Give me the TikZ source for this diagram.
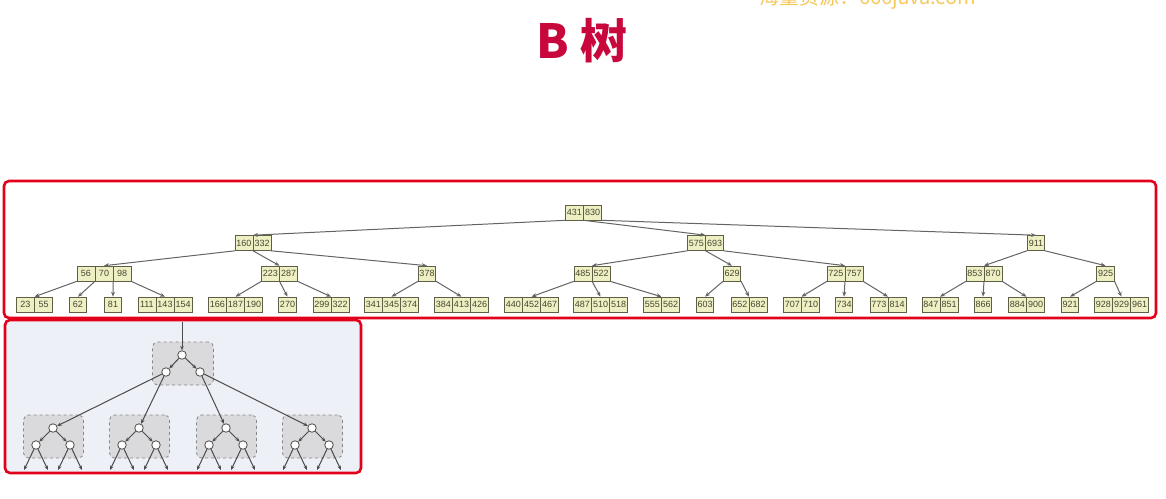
\documentclass[tikz,border=0pt]{standalone}
\usepackage{fontspec}
\setmainfont{Liberation Sans}
\newfontfamily\cjk{Noto Sans CJK SC}
\usetikzlibrary{shapes.multipart,arrows.meta}
\definecolor{frame}{RGB}{226,0,26}
\definecolor{titlered}{RGB}{200,8,60}
\definecolor{wmark}{RGB}{245,200,90}
\definecolor{nfill}{RGB}{238,240,196}
\definecolor{nborder}{RGB}{95,95,70}
\definecolor{ntext}{RGB}{70,70,50}
\definecolor{egray}{RGB}{100,100,100}
\definecolor{panelbg}{RGB}{238,240,247}
\definecolor{grpfill}{RGB}{218,218,220}
\definecolor{grpline}{RGB}{135,135,135}
\definecolor{pline}{RGB}{75,75,75}
\newcommand\ck[1]{\makebox[17.5pt]{\rule[-4.5pt]{0pt}{15pt}#1}}
\tikzset{
  bnode/.style={rectangle split, rectangle split horizontal, rectangle split draw splits=true,
    inner sep=0pt, draw=nborder, fill=nfill, text=ntext, line width=0.6pt,
    font=\fontsize{9}{9}\selectfont},
  kone/.style={bnode, rectangle split parts=1},
  ktwo/.style={bnode, rectangle split parts=2},
  kthree/.style={bnode, rectangle split parts=3},
  tedge/.style={draw=egray, line width=1pt, -{Stealth[length=5pt,width=4pt]}},
  redframe/.style={draw=frame, line width=2.6pt, rounded corners=5pt},
  grp/.style={draw=grpline, fill=grpfill, dashed, line width=0.8pt, rounded corners=5pt,
    minimum width=60pt, minimum height=43pt, inner sep=0pt},
  cir/.style={circle, draw=pline, fill=white, line width=0.8pt, minimum size=8.5pt, inner sep=0pt},
  pedge/.style={draw=pline, line width=1pt, -{Stealth[length=4.5pt,width=3.5pt]}},
}
\begin{document}
\begin{tikzpicture}[x=1pt,y=-1pt]
\useasboundingbox (0,0) rectangle (1166,498);
% watermark and title
\node[anchor=base west, inner sep=0pt, text=wmark, font=\cjk\fontsize{20}{20}\selectfont] (wm) at (759,4.5) {海量资源：666java.com};
\node[anchor=base west, inner sep=0pt, text=titlered, font=\cjk\bfseries\fontsize{47}{47}\selectfont] (title) at (536.5,58) {B 树};
% frames
\draw[redframe] (4,181) rectangle (1156,318);
\draw[redframe, fill=panelbg] (5,320) rectangle (361,473);
% ---- B-tree ----
\node[ktwo] (n431) at (583.5,212.5) {\ck{431}\nodepart{two}\ck{830}};
\node[ktwo] (n160) at (253,243) {\ck{160}\nodepart{two}\ck{332}};
\node[ktwo] (n575) at (705.5,243) {\ck{575}\nodepart{two}\ck{693}};
\node[kone] (n911) at (1036,243) {\ck{911}};
\node[kthree] (n56) at (104,273.5) {\ck{56}\nodepart{two}\ck{70}\nodepart{three}\ck{98}};
\node[ktwo] (n223) at (279.5,273.5) {\ck{223}\nodepart{two}\ck{287}};
\node[kone] (n378) at (427,273.5) {\ck{378}};
\node[ktwo] (n485) at (592,273.5) {\ck{485}\nodepart{two}\ck{522}};
\node[kone] (n629) at (732,273.5) {\ck{629}};
\node[ktwo] (n725) at (845,273.5) {\ck{725}\nodepart{two}\ck{757}};
\node[ktwo] (n853) at (984,273.5) {\ck{853}\nodepart{two}\ck{870}};
\node[kone] (n925) at (1105.5,273.5) {\ck{925}};
\node[ktwo] (n23) at (34.5,304.5) {\ck{23}\nodepart{two}\ck{55}};
\node[kone] (n62) at (78,304.5) {\ck{62}};
\node[kone] (n81) at (113,304.5) {\ck{81}};
\node[kthree] (n111) at (165,304.5) {\ck{111}\nodepart{two}\ck{143}\nodepart{three}\ck{154}};
\node[kthree] (n166) at (235.5,304.5) {\ck{166}\nodepart{two}\ck{187}\nodepart{three}\ck{190}};
\node[kone] (n270) at (287.5,304.5) {\ck{270}};
\node[ktwo] (n299) at (331,304.5) {\ck{299}\nodepart{two}\ck{322}};
\node[kthree] (n341) at (391.5,304.5) {\ck{341}\nodepart{two}\ck{345}\nodepart{three}\ck{374}};
\node[kthree] (n384) at (461.5,304.5) {\ck{384}\nodepart{two}\ck{413}\nodepart{three}\ck{426}};
\node[kthree] (n440) at (531.5,304.5) {\ck{440}\nodepart{two}\ck{452}\nodepart{three}\ck{467}};
\node[kthree] (n487) at (600.5,304.5) {\ck{487}\nodepart{two}\ck{510}\nodepart{three}\ck{518}};
\node[ktwo] (n555) at (661.5,304.5) {\ck{555}\nodepart{two}\ck{562}};
\node[kone] (n603) at (705,304.5) {\ck{603}};
\node[ktwo] (n652) at (749,304.5) {\ck{652}\nodepart{two}\ck{682}};
\node[ktwo] (n707) at (801.5,304.5) {\ck{707}\nodepart{two}\ck{710}};
\node[kone] (n734) at (844,304.5) {\ck{734}};
\node[ktwo] (n773) at (888,304.5) {\ck{773}\nodepart{two}\ck{814}};
\node[ktwo] (n847) at (940,304.5) {\ck{847}\nodepart{two}\ck{851}};
\node[kone] (n866) at (983,304.5) {\ck{866}};
\node[ktwo] (n884) at (1026.5,304.5) {\ck{884}\nodepart{two}\ck{900}};
\node[kone] (n921) at (1070,304.5) {\ck{921}};
\node[kthree] (n928) at (1121.5,304.5) {\ck{928}\nodepart{two}\ck{929}\nodepart{three}\ck{961}};
% edges
\draw[tedge] (n431.south west) -- (n160.north);
\draw[tedge] (n431.one split south) -- (n575.north);
\draw[tedge] (n431.south east) -- (n911.north);
\draw[tedge] (n160.south west) -- (n56.north);
\draw[tedge] (n160.one split south) -- (n223.north);
\draw[tedge] (n160.south east) -- (n378.north);
\draw[tedge] (n575.south west) -- (n485.north);
\draw[tedge] (n575.one split south) -- (n629.north);
\draw[tedge] (n575.south east) -- (n725.north);
\draw[tedge] (n911.south west) -- (n853.north);
\draw[tedge] (n911.south east) -- (n925.north);
\draw[tedge] (n56.south west) -- (n23.north);
\draw[tedge] (n56.one split south) -- (n62.north);
\draw[tedge] (n56.two split south) -- (n81.north);
\draw[tedge] (n56.south east) -- (n111.north);
\draw[tedge] (n223.south west) -- (n166.north);
\draw[tedge] (n223.one split south) -- (n270.north);
\draw[tedge] (n223.south east) -- (n299.north);
\draw[tedge] (n378.south west) -- (n341.north);
\draw[tedge] (n378.south east) -- (n384.north);
\draw[tedge] (n485.south west) -- (n440.north);
\draw[tedge] (n485.one split south) -- (n487.north);
\draw[tedge] (n485.south east) -- (n555.north);
\draw[tedge] (n629.south west) -- (n603.north);
\draw[tedge] (n629.south east) -- (n652.north);
\draw[tedge] (n725.south west) -- (n707.north);
\draw[tedge] (n725.one split south) -- (n734.north);
\draw[tedge] (n725.south east) -- (n773.north);
\draw[tedge] (n853.south west) -- (n847.north);
\draw[tedge] (n853.one split south) -- (n866.north);
\draw[tedge] (n853.south east) -- (n884.north);
\draw[tedge] (n925.south west) -- (n921.north);
\draw[tedge] (n925.south east) -- (n928.north);
% ---- lower panel ----
\node[grp, minimum width=61pt] (g0) at (183,363.5) {};
\node[cir] (t0) at (182,355) {};
\node[cir] (a0) at (166,372) {};
\node[cir] (b0) at (200,372) {};
\coordinate (in) at (182,322);
\draw[pedge] (in) -- (t0);
\draw[pedge] (t0) -- (a0);
\draw[pedge] (t0) -- (b0);
\foreach \i/\x in {1/53,2/139,3/226,4/312}{
  \node[grp] (g\i) at (\x+0.5,436.5) {};
  \node[cir] (t\i) at (\x,428) {};
  \node[cir] (a\i) at (\x-17,445) {};
  \node[cir] (b\i) at (\x+17,445) {};
  \coordinate (al\i) at (\x-29,470);
  \coordinate (ar\i) at (\x-5,470);
  \coordinate (bl\i) at (\x+5,470);
  \coordinate (br\i) at (\x+29,470);
  \draw[pedge] (t\i) -- (a\i);
  \draw[pedge] (t\i) -- (b\i);
  \draw[pedge] (a\i) -- (al\i);
  \draw[pedge] (a\i) -- (ar\i);
  \draw[pedge] (b\i) -- (bl\i);
  \draw[pedge] (b\i) -- (br\i);
}
\draw[pedge] (a0) -- (t1);
\draw[pedge] (a0) -- (t2);
\draw[pedge] (b0) -- (t3);
\draw[pedge] (b0) -- (t4);
\end{tikzpicture}
\end{document}
